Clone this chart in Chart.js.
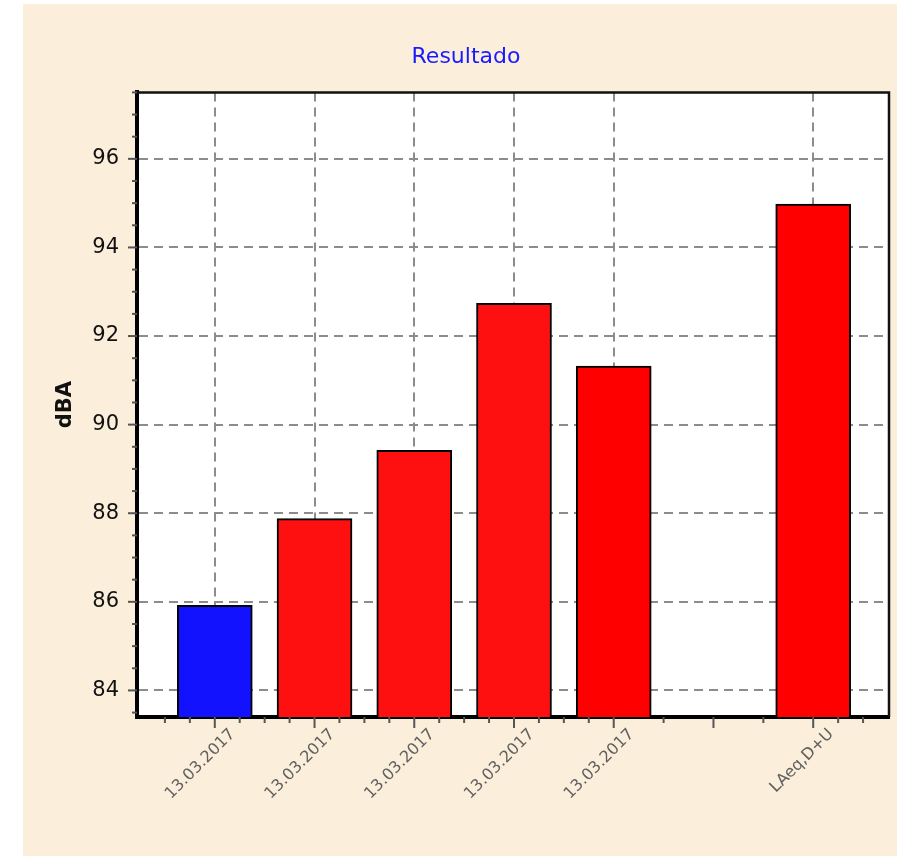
<!DOCTYPE html>
<html>
<head>
<meta charset="utf-8">
<script src="https://cdn.jsdelivr.net/npm/chart.js@4/dist/chart.umd.min.js"></script>
<style>
  html, body { margin: 0; padding: 0; background: #fff; overflow: hidden; }
  #wrap { position: absolute; left: 23px; top: 4px; width: 886px; height: 852px; background: #fbeeda; }
</style>
</head>
<body>
<div id="wrap"><canvas id="grafico" width="886" height="852"></canvas></div>
<script>
// categorias del eje x (la sexta posición va vacía)
const categorias = ["13.03.2017", "13.03.2017", "13.03.2017", "13.03.2017", "13.03.2017", "", "LAeq,D+U"];
const posiciones = [1, 2, 3, 4, 5, 6, 7];
// niveles en dBA
const niveles = [85.92, 87.88, 89.42, 92.74, 91.32, null, 94.98];
const colores = ["#1212ff", "#ff1010", "#ff1010", "#ff1010", "#ff0000", "#ff0000", "#ff0000"];
// marcas del eje y con etiqueta
const marcasY = [84, 86, 88, 90, 92, 94, 96];
// marcas menores del eje x
const marcasX = [0.5, 0.75, 1, 1.25, 1.5, 1.75, 2, 2.25, 2.5, 2.75, 3, 3.25, 3.5, 3.75, 4, 4.25, 4.5, 4.75, 5, 5.5, 6, 6.5, 7, 7.25, 7.5];

const gris = "#8c8c8c";
const fuente = "'DejaVu Sans', Verdana, sans-serif";

const conEtiqueta = (v) => Number.isInteger(v) && categorias[v - 1];

// fondo blanco del area, marcos de arriba y derecha, y marcas de los ejes
const marco = {
  id: "marco",
  beforeDraw(chart) {
    const { ctx, chartArea: a } = chart;
    ctx.save();
    ctx.fillStyle = "#fff";
    ctx.fillRect(a.left, a.top, a.right - a.left, a.bottom - a.top);
    ctx.restore();
  },
  afterDraw(chart) {
    const { ctx, chartArea: a } = chart;
    const x = chart.scales.x, y = chart.scales.y;
    ctx.save();
    ctx.strokeStyle = "#555";
    ctx.lineWidth = 2;
    x.ticks.forEach(({ value }) => {
      const px = x.getPixelForValue(value);
      const largo = Number.isInteger(value) ? 11 : 6;
      ctx.beginPath();
      ctx.moveTo(px, a.bottom);
      ctx.lineTo(px, a.bottom + largo);
      ctx.stroke();
    });
    y.ticks.forEach(({ value }) => {
      const py = y.getPixelForValue(value);
      const largo = value % 2 === 0 ? 9 : 5;
      ctx.beginPath();
      ctx.moveTo(a.left, py);
      ctx.lineTo(a.left - largo, py);
      ctx.stroke();
    });
    ctx.strokeStyle = "#111";
    ctx.lineWidth = 2.5;
    ctx.beginPath();
    ctx.moveTo(a.left, a.top);
    ctx.lineTo(a.right, a.top);
    ctx.lineTo(a.right, a.bottom);
    ctx.stroke();
    ctx.restore();
  },
};

new Chart(document.getElementById("grafico").getContext("2d"), {
  type: "bar",
  data: {
    datasets: [
      {
        label: "dBA",
        data: posiciones.map((x, i) => ({ x, y: niveles[i] })),
        backgroundColor: colores,
        borderColor: "#000",
        borderWidth: 2,
        borderSkipped: false,
        barThickness: 75,
      },
    ],
  },
  options: {
    responsive: false,
    animation: false,
    devicePixelRatio: 1,
    layout: { padding: 0 },
    plugins: {
      legend: { display: false },
      tooltip: { enabled: false },
      title: {
        display: true,
        text: "Resultado",
        color: "#1a1aff",
        font: { family: fuente, size: 22, weight: "normal" },
        padding: { top: 40, bottom: 22 },
      },
    },
    scales: {
      x: {
        type: "linear",
        offset: false,
        min: 0.22,
        max: 7.76,
        afterBuildTicks: (s) => { s.ticks = marcasX.map((value) => ({ value })); },
        afterFit: (s) => { s.height = 139; },
        grid: {
          offset: false,
          drawTicks: false,
          lineWidth: 2,
          color: (c) => (c.tick && conEtiqueta(c.tick.value) ? gris : "rgba(0,0,0,0)"),
        },
        border: { display: true, color: "#000", width: 4, dash: [9, 6] },
        ticks: {
          autoSkip: false,
          maxRotation: 45,
          minRotation: 45,
          padding: 8,
          labelOffset: 18,
          color: "#606060",
          font: { family: fuente, size: 16 },
          callback: (v) => (Number.isInteger(v) ? categorias[v - 1] || "" : ""),
        },
      },
      y: {
        min: 83.4,
        max: 97.5,
        afterBuildTicks: (s) => {
          const t = [];
          for (let v = 83.5; v <= 97.5; v += 0.5) t.push({ value: v });
          s.ticks = t;
        },
        afterFit: (s) => { s.width = 114; },
        grid: {
          drawTicks: false,
          lineWidth: 2,
          color: (c) => (c.tick && marcasY.includes(c.tick.value) ? gris : "rgba(0,0,0,0)"),
        },
        border: { display: true, color: "#000", width: 4, dash: [9, 6] },
        title: {
          display: true,
          text: "dBA",
          color: "#111",
          font: { family: fuente, size: 21, weight: "bold" },
          padding: { top: 30, bottom: 0 },
        },
        ticks: {
          autoSkip: false,
          padding: 18,
          color: "#111",
          font: { family: fuente, size: 21 },
          callback: (v) => (marcasY.includes(v) ? String(v) : ""),
        },
      },
      // margen derecho del area de trazado
      derecha: {
        type: "linear",
        position: "right",
        min: 0,
        max: 1,
        afterFit: (s) => { s.width = 20; },
        grid: { display: false },
        border: { display: false },
        ticks: { display: false },
      },
    },
  },
  plugins: [marco],
});
</script>
</body>
</html>
